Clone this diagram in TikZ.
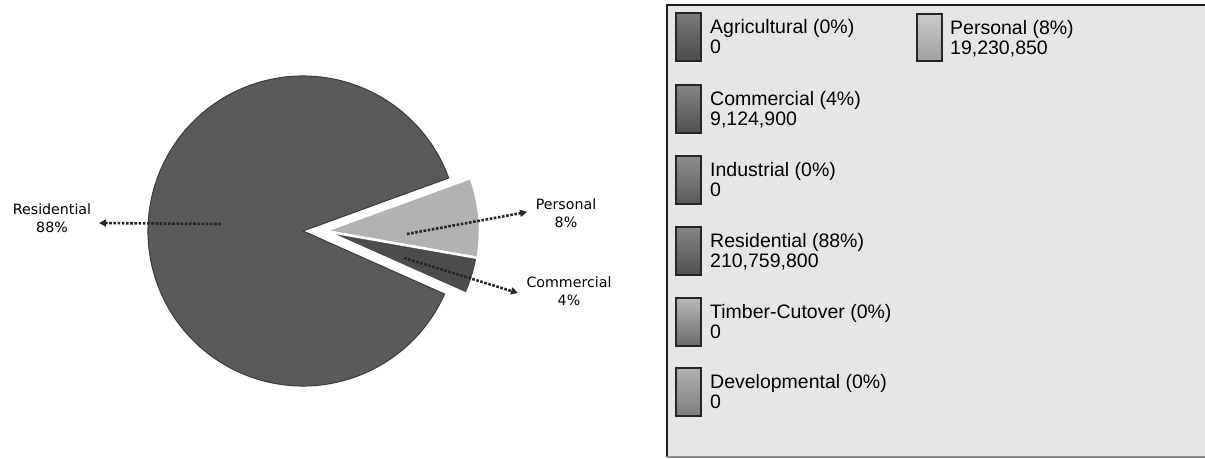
\documentclass[tikz,border=0pt]{standalone}
\usepackage{fontspec}
\usetikzlibrary{arrows.meta}
\newfontfamily\piefont{DejaVu Sans}
\newfontfamily\legfont{Liberation Sans}
\definecolor{resfill}{HTML}{5A5A5A}
\definecolor{resedge}{HTML}{3A3A3A}
\definecolor{persfill}{HTML}{B2B2B2}
\definecolor{comfill}{HTML}{4C4C4C}
\definecolor{legbg}{HTML}{E6E6E6}
\definecolor{legedge}{HTML}{1E1E1E}
\tikzset{
  pielabel/.style={font=\piefont\fontsize{14.2}{18.5}\selectfont, align=center, inner sep=0pt},
  legtext/.style={font=\legfont\fontsize{19.5}{20}\selectfont, anchor=base west, inner sep=0pt},
  dotarrow/.style={line width=2.6pt, dash pattern=on 2.6pt off 1.6pt, black!85,
                   -{Triangle[length=7pt,width=7pt]}},
  swatchbox/.style={draw=black!85, line width=1.2pt}
}
\begin{document}
\begin{tikzpicture}[x=1pt,y=-1pt]
\useasboundingbox (0,0) rectangle (1205,458);
% ---------- pie ----------
\coordinate (C) at (303,231);
\coordinate (E) at (325,231);
\fill[resfill, draw=resedge, line width=1pt]
  (C) -- ++(-20:155) arc[start angle=-20, end angle=-336, radius=155] -- cycle;
\fill[persfill, draw=white, line width=2.5pt, line join=miter]
  (E) -- ++(10:155) arc[start angle=10, end angle=-20, radius=155] -- cycle;
\fill[comfill, draw=white, line width=2.5pt, line join=miter]
  (E) -- ++(24:155) arc[start angle=24, end angle=10, radius=155] -- cycle;
% ---------- pie labels ----------
\node[pielabel] (reslab) at (52,218) {Residential\\88\%};
\node[pielabel] (perslab) at (566,213) {Personal\\8\%};
\node[pielabel] (comlab) at (569,291) {Commercial\\4\%};
% ---------- arrows ----------
\coordinate (restail) at (221,224);
\coordinate (reshead) at (99,223);
\coordinate (perstail) at (407,234);
\coordinate (pershead) at (527,212);
\coordinate (comtail) at (404,258);
\coordinate (comhead) at (518,293);
\draw[dotarrow] (restail) -- (reshead);
\draw[dotarrow] (perstail) -- (pershead);
\draw[dotarrow] (comtail) -- (comhead);
% ---------- legend ----------
\fill[legbg] (667,5) rectangle (1205,457);
\draw[legedge, line width=1.8pt] (1205,5) -- (667,5) -- (667,457);
\draw[black!45, line width=1.2pt] (667,457) -- (1205,457);
\foreach \nm/\lab/\val/\ty/\ct/\cb [count=\i] in {
  agr/Agricultural (0\%)/0/13/7A7A7A/4A4A4A,
  com/Commercial (4\%)/{9,124,900}/85/858585/4F4F4F,
  ind/Industrial (0\%)/0/156/8E8E8E/5A5A5A,
  res/Residential (88\%)/{210,759,800}/227/858585/505050,
  tim/Timber-Cutover (0\%)/0/298/B8B8B8/6A6A6A,
  dev/Developmental (0\%)/0/368/B0B0B0/7E7E7E}{
  \definecolor{topc}{HTML}{\ct}
  \definecolor{botc}{HTML}{\cb}
  \shade[top color=topc, bottom color=botc] (676,\ty) rectangle (701,\ty+48);
  \draw[swatchbox] (676,\ty) rectangle (701,\ty+48);
  \node[legtext] (\nm lab) at (710,\ty+20) {\lab};
  \node[legtext] (\nm val) at (710,\ty+40) {\val};
}
\shade[top color=persfill!70, bottom color=persfill!90!black] (917,14) rectangle (942,61);
\draw[swatchbox] (917,14) rectangle (942,61);
\node[legtext] (perlab) at (950,34) {Personal (8\%)};
\node[legtext] (perval) at (950,54) {19,230,850};
\end{tikzpicture}
\end{document}
